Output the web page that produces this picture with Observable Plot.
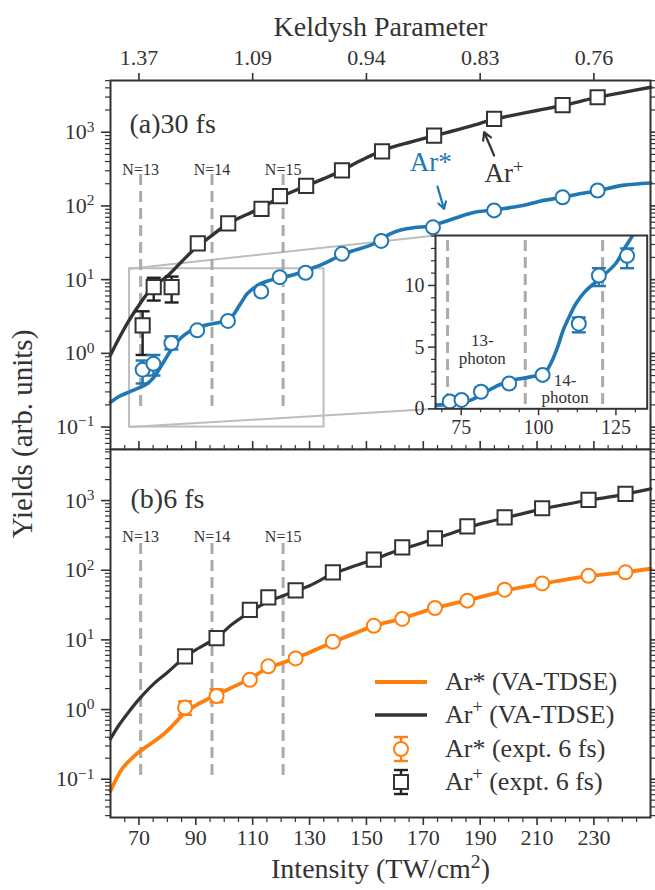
<!DOCTYPE html>
<html>
<head>
<meta charset="utf-8">
<script src="https://cdn.jsdelivr.net/npm/d3@7"></script>
<script src="https://cdn.jsdelivr.net/npm/@observablehq/plot@0.6"></script>
<style>
  html, body { margin: 0; padding: 0; background: #fff; }
  #fig { position: relative; width: 655px; height: 890px; background: #fff; overflow: hidden;
         font-family: "Liberation Serif", "DejaVu Serif", serif; color: #333; }
  #fig svg { position: absolute; }
  .ytitle { position: absolute; left: 22px; top: 434px; transform: translate(-50%, -50%) rotate(-90deg);
            white-space: nowrap; font-size: 29px; }
  .lrow { position: absolute; left: 370px; height: 34px; display: flex; align-items: center;
          white-space: nowrap; font-size: 26px; }
  .lrow svg { position: static !important; display: block; margin-right: 13px; }
  .lrow sup { font-size: 0.7em; line-height: 0; vertical-align: 0.55em; }
</style>
</head>
<body>
<div id="fig"></div>
<script>
// ---------------- data ----------------
const keldyshTicks = [70, 110, 150, 190, 230];
const keldyshLabels = ["1.37", "1.09", "0.94", "0.83", "0.76"];
const xTickValues = [70, 90, 110, 130, 150, 170, 190, 210, 230];
const thresholdIntensity = [70.6, 95.7, 120.7];
const thresholdLabels = ["N=13", "N=14", "N=15"];
const yMajor = [0.1, 1, 10, 100, 1000];
const yMajorLabels = ["10⁻¹", "10⁰", "10¹", "10²", "10³"];

// panel (a) 30 fs — theory
const aArPlusI = [60,63,66,70,73,76,80,85,90,95,100,105,110,115,120,125,130,135,140,145,150,155,160,165,170,175,180,185,190,195,200,210,220,230,240,250];
const aArPlusY = [0.95,1.6,2.6,4.5,6.5,8.6,11.2,17.5,27,38,53,68,83,104,133,162,195,235,285,360,450,550,640,725,820,920,1030,1160,1320,1500,1650,1970,2350,2900,3450,4075];
const aArStarI = [60,63,66.7,70,73,75,77,79,81,83,86,90,95,100,102,104,106,108,110,112,115,120,125,128,130,135,140,145,150,155,158,162,167,172,178,183,188,195,200,205,211,219,225,231,240,250];
const aArStarY = [0.217,0.26,0.30,0.34,0.39,0.46,0.6,0.8,1.07,1.38,1.78,2.22,2.48,2.72,2.9,3.7,4.9,6.4,7.5,8.5,9.5,10.6,11.8,13.1,13.9,16.5,20.5,24.5,28,34,41,47,51,53,62,72,82,88,94,101,116,131,146,160,190,205];
// panel (a) — experiment
const aExpArPlusI = [71.3, 75.2, 81.5, 90.7, 101.4, 113.1, 119.6, 128.8, 141.4, 155.5, 173.8, 194.9, 219, 231.3];
const aExpArPlusY = [2.4, 7.9, 7.9, 31, 58, 91, 136, 187, 304, 550, 900, 1517, 2330, 2980];
const aExpArPlusLo = [0.95, 5.2, 4.9, 30, 56, 88, 132, 181, 295, 533, 873, 1470, 2260, 2890];
const aExpArPlusHi = [3.72, 10.6, 11.0, 32, 60, 94, 140, 193, 313, 567, 927, 1560, 2400, 3070];
const aExpArStarI = [71.3, 75.1, 81.4, 90.5, 101.3, 113, 119.5, 128.6, 141.4, 155.2, 173.4, 194.9, 219, 231.3];
const aExpArStarY = [0.6, 0.72, 1.38, 2.05, 2.75, 6.9, 10.8, 12.4, 22.4, 33.5, 51.3, 87, 131, 162];
const aExpArStarLo = [0.39, 0.5, 1.13, 1.9, 2.55, 6.2, 9.95, 11.4, 21.6, 32.4, 49.6, 84.5, 127, 157];
const aExpArStarHi = [0.8, 0.95, 1.7, 2.2, 2.95, 7.4, 11.4, 13.0, 23.2, 34.6, 53, 89.5, 135, 167];

// panel (b) 6 fs — theory
const bArPlusI = [60,63,66,70,75,80,86,90,97,103,109,115,120,125,130,138,145,153,160,170,180,186,192,199,205,212,220,228,235,241,250];
const bArPlusY = [0.38,0.6,0.88,1.4,2.3,3.4,5.6,7.2,10.6,17,25,35,42,50,60,88,112,145,185,250,340,415,485,570,650,760,880,1010,1120,1240,1470];
const bArStarI = [60,62,64,67,70,74,78,82,86,90,94,97,103,109,115,121,125,130,138,145,153,162,174,185,199,212,228,241,250];
const bArStarY = [0.068,0.1,0.14,0.19,0.245,0.32,0.42,0.6,0.88,1.15,1.4,1.6,2.1,2.75,3.9,4.75,5.5,6.6,9.2,12,16,20,28.5,36.5,51,64,82,94,105];
// panel (b) — experiment
const bExpI = [86.2, 97.3, 109, 115.5, 125.1, 138.2, 152.6, 162.6, 174.1, 185.5, 198.6, 211.8, 228.1, 241.1];
const bExpArPlusY = [5.8, 10.6, 27, 40.8, 51.3, 93, 142, 213, 287, 426, 575, 776, 1023, 1248];
const bExpArPlusLo = [5.6, 10.3, 26.2, 39.6, 49.8, 90, 138, 207, 279, 413, 558, 753, 992, 1211];
const bExpArPlusHi = [6.0, 10.9, 27.8, 42, 52.8, 96, 146, 219, 295, 439, 592, 799, 1054, 1285];
const bExpArStarY = [1.07, 1.57, 2.68, 4.17, 5.42, 9.4, 15.9, 20, 28.7, 36.6, 52.5, 64.6, 83.2, 93.3];
const bExpArStarLo = [0.84, 1.27, 2.55, 3.95, 4.95, 9.0, 15.2, 19.2, 27.6, 35.2, 50.5, 62.2, 80, 89.8];
const bExpArStarHi = [1.31, 1.95, 2.82, 4.4, 5.9, 9.8, 16.6, 20.8, 29.8, 38, 54.5, 67, 86.4, 96.8];

// inset (zoomed region of panel a)
const insetX = [66.7, 135.1];
const insetY = [0, 14.05];
const zoomBoxBottom = 0.1;
const insetXTicks = [75, 100, 125];
const insetXMinor = [68.75, 81.25, 87.5, 93.75, 106.25, 112.5, 118.75, 131.25];
const insetYTicks = [0, 5, 10];
const insetYMinor = [1, 2, 3, 4, 6, 7, 8, 9, 11, 12, 13, 14];
const insetNotes = [{x: 81.8, y: 4.8, text: "13-\nphoton"}, {x: 108.6, y: 1.62, text: "14-\nphoton"}];

// annotations (panel a)
const annotLabels = [{x: 172.6, y: 392, text: "Ar*", who: "star"}, {x: 198.4, y: 273, text: "Ar⁺", who: "plus"}];
const annotArrows = [{x1: 175, y1: 183, x2: 177.3, y2: 91, who: "star"}, {x1: 194.9, y1: 483, x2: 191.4, y2: 1000, who: "plus"}];

const legendLabels = ["Ar* (VA-TDSE)", "Ar⁺ (VA-TDSE)", "Ar* (expt. 6 fs)", "Ar⁺ (expt. 6 fs)"];

// ---------------- styles ----------------
const DARK = "#333333", BLUE = "#1f77b4", ORANGE = "#ff7f0e", DASH = "#ababab", BOX = "#bdbdbd";
const FONT = "Liberation Serif, DejaVu Serif, serif";
const TICK = 22, TITLE = 28;
const xDomain = [60, 249.9];
const yDomainA = [0.0496, 5029];
const yDomainB = [0.0282, 5408];

const zip = (xs, ys) => xs.map((x, i) => ({x, y: ys[i]}));
const zipErr = (xs, ys, lo, hi) => xs.map((x, i) => ({x, y: ys[i], lo: lo[i], hi: hi[i]}));
const logMinor = (dom) => {
  const out = [];
  for (let k = -3; k <= 4; k++) for (let m = 2; m <= 9; m++) {
    const v = m * Math.pow(10, k);
    if (v >= dom[0] && v <= dom[1]) out.push(v);
  }
  return out;
};
const xMinor = d3.range(65, 250, 5).filter(v => !xTickValues.includes(v));
const fmtY = d => yMajorLabels[yMajor.indexOf(d)] ?? "";
const blank = () => "";

const capSymbol = {draw(ctx, size) { const r = Math.sqrt(size / Math.PI); ctx.moveTo(-r, 0); ctx.lineTo(r, 0); }};

function errMarks(data, color, opts = {}) {
  return [
    Plot.ruleX(data, {x: "x", y1: "lo", y2: "hi", stroke: color, strokeWidth: 2.4, ...opts}),
    Plot.dot(data, {x: "x", y: "lo", symbol: capSymbol, r: 7, fill: "none", stroke: color, strokeWidth: 2.4, ...opts}),
    Plot.dot(data, {x: "x", y: "hi", symbol: capSymbol, r: 7, fill: "none", stroke: color, strokeWidth: 2.4, ...opts})
  ];
}

function yAxes(dom) {
  const minor = logMinor(dom);
  return [
    Plot.axisY({anchor: "left", ticks: yMajor, tickSize: 9, tickPadding: 7, tickFormat: fmtY, fontSize: TICK, strokeWidth: 1.6, label: null}),
    Plot.axisY({anchor: "left", ticks: minor, tickSize: 5, tickFormat: blank, strokeWidth: 1.2, label: null}),
    Plot.axisY({anchor: "right", ticks: yMajor, tickSize: 9, tickFormat: blank, strokeWidth: 1.6, label: null}),
    Plot.axisY({anchor: "right", ticks: minor, tickSize: 5, tickFormat: blank, strokeWidth: 1.2, label: null})
  ];
}

// turn unicode superscripts into raised tspans
const ns = "http://www.w3.org/2000/svg";
const supMap = {"⁻": "−", "⁰": "0", "¹": "1", "²": "2", "³": "3", "⁺": "+"};
function supify(root) {
  root.querySelectorAll("text").forEach(t => {
    if (t.querySelector("tspan")) return;
    const s = t.textContent;
    if (!/[⁻⁰¹²³⁺]/.test(s)) return;
    const runs = [];
    for (const ch of s) {
      const sup = ch in supMap;
      const last = runs[runs.length - 1];
      const c = sup ? supMap[ch] : ch;
      if (last && last.sup === sup) last.text += c; else runs.push({sup, text: c});
    }
    t.textContent = "";
    let raised = false;
    runs.forEach(r => {
      const ts = document.createElementNS(ns, "tspan");
      ts.textContent = r.text;
      if (r.sup) { ts.setAttribute("dy", "-0.5em"); ts.setAttribute("font-size", "0.7em"); raised = true; }
      else if (raised) { ts.setAttribute("dy", "0.35em"); raised = false; }
      t.appendChild(ts);
    });
  });
}

const fig = document.getElementById("fig");

// ---------------- panel (a) ----------------
const xs = d3.scaleLinear().domain(xDomain).range([110, 650]);
const ysA = d3.scaleLog().domain(yDomainA).range([449, 80]);
const insetBox = {left: 435, top: 235, right: 646.7, bottom: 408.3};
const connectors = [
  {x1: insetX[0], y1: insetY[1], x2: xs.invert(insetBox.left), y2: ysA.invert(insetBox.top)},
  {x1: insetX[0], y1: zoomBoxBottom, x2: xs.invert(insetBox.left), y2: ysA.invert(insetBox.bottom)}
];

const plotA = Plot.plot({
  width: 655, height: 450,
  marginTop: 80, marginBottom: 1, marginLeft: 110, marginRight: 5,
  x: {domain: xDomain},
  y: {type: "log", domain: yDomainA},
  style: {background: "transparent", fontFamily: FONT, fontSize: TICK + "px", color: "#333"},
  marks: [
    Plot.rect([{x1: insetX[0], x2: insetX[1], y1: zoomBoxBottom, y2: insetY[1]}], {x1: "x1", x2: "x2", y1: "y1", y2: "y2", fill: "none", stroke: BOX, strokeWidth: 2}),
    Plot.link(connectors, {x1: "x1", y1: "y1", x2: "x2", y2: "y2", stroke: BOX, strokeWidth: 2}),
    Plot.ruleX(thresholdIntensity, {x: d => d, stroke: DASH, strokeWidth: 3, strokeDasharray: "11,6", insetTop: 94, insetBottom: 37}),
    Plot.text(thresholdIntensity, {x: d => d, text: (d, i) => thresholdLabels[i], frameAnchor: "top", dy: 83, fontSize: 16, fill: "#333"}),
    Plot.line(zip(aArPlusI, aArPlusY), {x: "x", y: "y", stroke: DARK, strokeWidth: 3.4, curve: "catmull-rom"}),
    Plot.line(zip(aArStarI, aArStarY), {x: "x", y: "y", stroke: BLUE, strokeWidth: 3.6, curve: "catmull-rom"}),
    ...errMarks(zipErr(aExpArPlusI, aExpArPlusY, aExpArPlusLo, aExpArPlusHi), "#222"),
    Plot.dot(zip(aExpArPlusI, aExpArPlusY), {x: "x", y: "y", symbol: "square", r: 8, fill: "white", stroke: DARK, strokeWidth: 2}),
    ...errMarks(zipErr(aExpArStarI, aExpArStarY, aExpArStarLo, aExpArStarHi), BLUE),
    Plot.dot(zip(aExpArStarI, aExpArStarY), {x: "x", y: "y", r: 7, fill: "white", stroke: BLUE, strokeWidth: 2}),
    Plot.arrow(annotArrows, {x1: "x1", y1: "y1", x2: "x2", y2: "y2", stroke: d => d.who === "star" ? BLUE : DARK, strokeWidth: 2.2, headLength: 10}),
    Plot.text(annotLabels, {x: "x", y: "y", text: "text", fill: d => d.who === "star" ? BLUE : DARK, fontSize: 27}),
    Plot.text(["(a)30 fs"], {text: d => d, frameAnchor: "top-left", dx: 19, dy: 33, textAnchor: "start", fontSize: 28, fill: "#333"}),
    Plot.text(["Keldysh Parameter"], {text: d => d, frameAnchor: "top", dy: -64, fontSize: TITLE, fill: "#333"}),
    Plot.axisX({anchor: "top", ticks: keldyshTicks, tickSize: 8, tickPadding: 8, fontSize: TICK, strokeWidth: 1.6,
                tickFormat: d => keldyshLabels[keldyshTicks.indexOf(d)], label: null}),
    ...yAxes(yDomainA),
    Plot.frame({stroke: "#333", strokeWidth: 2})
  ]
});
plotA.style.left = "0px"; plotA.style.top = "0px";
supify(plotA);
fig.appendChild(plotA);

// ---------------- panel (b) ----------------
const plotB = Plot.plot({
  width: 655, height: 453,
  marginTop: 12, marginBottom: 73, marginLeft: 110, marginRight: 5,
  x: {domain: xDomain},
  y: {type: "log", domain: yDomainB},
  style: {background: "transparent", fontFamily: FONT, fontSize: TICK + "px", color: "#333"},
  marks: [
    Plot.ruleX(thresholdIntensity, {x: d => d, stroke: DASH, strokeWidth: 3, strokeDasharray: "11,6", insetTop: 94, insetBottom: 37}),
    Plot.text(thresholdIntensity, {x: d => d, text: (d, i) => thresholdLabels[i], frameAnchor: "top", dy: 81, fontSize: 16, fill: "#333"}),
    Plot.line(zip(bArPlusI, bArPlusY), {x: "x", y: "y", stroke: DARK, strokeWidth: 3.2, curve: "catmull-rom"}),
    Plot.line(zip(bArStarI, bArStarY), {x: "x", y: "y", stroke: ORANGE, strokeWidth: 3.8, curve: "catmull-rom"}),
    ...errMarks(zipErr(bExpI, bExpArPlusY, bExpArPlusLo, bExpArPlusHi), "#222"),
    Plot.dot(zip(bExpI, bExpArPlusY), {x: "x", y: "y", symbol: "square", r: 8, fill: "white", stroke: DARK, strokeWidth: 2}),
    ...errMarks(zipErr(bExpI, bExpArStarY, bExpArStarLo, bExpArStarHi), ORANGE),
    Plot.dot(zip(bExpI, bExpArStarY), {x: "x", y: "y", r: 7, fill: "white", stroke: ORANGE, strokeWidth: 2}),
    Plot.text(["(b)6 fs"], {text: d => d, frameAnchor: "top-left", dx: 20, dy: 39, textAnchor: "start", fontSize: 28, fill: "#333"}),
    Plot.text(["Intensity (TW/cm²)"], {text: d => d, frameAnchor: "bottom", dy: 60, fontSize: TITLE, fill: "#333"}),
    Plot.axisX({anchor: "top", ticks: xTickValues, tickSize: 9, tickFormat: blank, strokeWidth: 1.6, label: null}),
    Plot.axisX({anchor: "top", ticks: xMinor, tickSize: 5, tickFormat: blank, strokeWidth: 1.2, label: null}),
    Plot.axisX({anchor: "bottom", ticks: xTickValues, tickSize: 8, tickPadding: 4, tickFormat: d => String(d), fontSize: TICK, strokeWidth: 1.6, label: null}),
    Plot.axisX({anchor: "bottom", ticks: xMinor, tickSize: 5, tickFormat: blank, strokeWidth: 1.2, label: null}),
    ...yAxes(yDomainB),
    Plot.frame({stroke: "#333", strokeWidth: 2})
  ]
});
plotB.style.left = "0px"; plotB.style.top = "437px";
supify(plotB);
fig.appendChild(plotB);

// ---------------- inset ----------------
const insetLeft = 395, insetTopPx = 225, insetW = 260, insetH = 215;
const plotI = Plot.plot({
  width: insetW, height: insetH,
  marginLeft: insetBox.left - insetLeft, marginTop: insetBox.top - insetTopPx,
  marginRight: insetLeft + insetW - insetBox.right, marginBottom: insetTopPx + insetH - insetBox.bottom,
  x: {domain: insetX},
  y: {domain: insetY},
  style: {background: "transparent", fontFamily: FONT, fontSize: "20px", color: "#333"},
  marks: [
    Plot.frame({fill: "white", stroke: "none"}),
    Plot.ruleX(thresholdIntensity, {x: d => d, stroke: DASH, strokeWidth: 3, strokeDasharray: "11,6", insetTop: 5, insetBottom: 2}),
    Plot.line(zip(aArStarI, aArStarY), {x: "x", y: "y", stroke: BLUE, strokeWidth: 3.6, curve: "catmull-rom", clip: true}),
    ...errMarks(zipErr(aExpArStarI, aExpArStarY, aExpArStarLo, aExpArStarHi).filter(d => d.x < insetX[1]), BLUE),
    Plot.dot(zip(aExpArStarI, aExpArStarY).filter(d => d.x < insetX[1]), {x: "x", y: "y", r: 7, fill: "white", stroke: BLUE, strokeWidth: 2}),
    Plot.text(insetNotes, {x: "x", y: "y", text: "text", fontSize: 17, lineHeight: 1.05, fill: "#333"}),
    Plot.axisX({ticks: insetXTicks, tickSize: 7, tickPadding: 4, fontSize: 20, strokeWidth: 1.5, label: null}),
    Plot.axisX({ticks: insetXMinor, tickSize: 4, tickFormat: blank, strokeWidth: 1.2, label: null}),
    Plot.axisY({ticks: insetYTicks, tickSize: 7, tickPadding: 4, fontSize: 20, strokeWidth: 1.5, label: null}),
    Plot.axisY({ticks: insetYMinor, tickSize: 4, tickFormat: blank, strokeWidth: 1.2, label: null}),
    Plot.frame({stroke: "#333", strokeWidth: 2})
  ]
});
plotI.style.left = insetLeft + "px"; plotI.style.top = insetTopPx + "px";
fig.appendChild(plotI);

// ---------------- y title ----------------
const yt = document.createElement("div");
yt.className = "ytitle";
yt.textContent = "Yields (arb. units)";
fig.appendChild(yt);

// ---------------- legend (panel b) ----------------
const legendKinds = [["line", ORANGE], ["line", DARK], ["circle", ORANGE], ["square", DARK]];
legendLabels.forEach((lab, i) => {
  const row = document.createElement("div");
  row.className = "lrow";
  row.style.top = (681.7 + i * 33.4 - 17) + "px";
  const s = document.createElementNS(ns, "svg");
  s.setAttribute("width", 62); s.setAttribute("height", 34);
  const [kind, col] = legendKinds[i];
  const barCol = col === DARK ? "#222" : col;
  const add = (tag, attrs) => { const e = document.createElementNS(ns, tag); for (const k in attrs) e.setAttribute(k, attrs[k]); s.appendChild(e); };
  if (kind === "line") {
    add("line", {x1: 5, x2: 57, y1: 17, y2: 17, stroke: col, "stroke-width": col === ORANGE ? 3.8 : 3.4});
  } else {
    add("line", {x1: 31, x2: 31, y1: 5, y2: 29, stroke: barCol, "stroke-width": 2.4});
    add("line", {x1: 24, x2: 38, y1: 5, y2: 5, stroke: barCol, "stroke-width": 2.4});
    add("line", {x1: 24, x2: 38, y1: 29, y2: 29, stroke: barCol, "stroke-width": 2.4});
    if (kind === "circle") add("circle", {cx: 31, cy: 17, r: 7, fill: "white", stroke: col, "stroke-width": 2});
    else add("rect", {x: 24, y: 10, width: 14, height: 14, fill: "white", stroke: col, "stroke-width": 2});
  }
  row.appendChild(s);
  const t = document.createElement("span");
  t.innerHTML = lab.replace("⁺", "<sup>+</sup>");
  row.appendChild(t);
  fig.appendChild(row);
});
</script>
</body>
</html>
